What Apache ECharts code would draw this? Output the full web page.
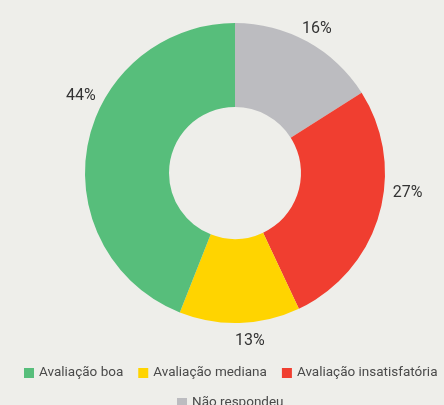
<!DOCTYPE html>
<html><head><meta charset="utf-8">
<script src="https://cdn.jsdelivr.net/npm/echarts@6/dist/echarts.min.js"></script>
<style>html,body{margin:0;padding:0;background:#eeeeea;}#c{width:444px;height:405px;}</style>
</head><body><div id="c"></div>
<script>
const categories = ['Não respondeu', 'Avaliação insatisfatória', 'Avaliação mediana', 'Avaliação boa'];
const values = [16, 27, 13, 44];
const colors = ['#bcbcc0', '#f03e30', '#ffd400', '#57be7b'];
const legendRow1 = ['Avaliação boa', 'Avaliação mediana', 'Avaliação insatisfatória'];
const legendRow2 = ['Não respondeu'];
// label nudges (style only)
const labelNudge = [[-14, -6], [1, -24], [-10, 10], [21, -47]];

const legendText = { color: '#4a4a4a', fontSize: 13.5, fontFamily: 'Roboto, sans-serif' };
const chart = echarts.init(document.getElementById('c'));
chart.setOption({
  backgroundColor: '#eeeeea',
  animation: false,
  legend: [{
    data: legendRow1,
    top: 366,
    left: 24,
    width: 440,
    padding: 0,
    itemWidth: 10,
    itemHeight: 10,
    itemGap: 15,
    icon: 'rect',
    textStyle: legendText
  }, {
    data: legendRow2,
    top: 396,
    left: 177,
    width: 260,
    padding: 0,
    itemWidth: 10,
    itemHeight: 10,
    icon: 'rect',
    textStyle: legendText
  }],
  series: [{
    type: 'pie',
    center: [235, 173],
    radius: [66, 150],
    startAngle: 90,
    clockwise: true,
    data: categories.map((c, i) => ({ name: c, value: values[i], itemStyle: { color: colors[i] } })),
    label: {
      show: true,
      formatter: '{c}%',
      color: '#333',
      fontSize: 16,
      fontFamily: 'Roboto, sans-serif',
      position: 'outside'
    },
    labelLine: { show: false, length: 8, length2: 0 },
    labelLayout: function (p) {
      const n = labelNudge[p.dataIndex];
      return { dx: n[0], dy: n[1] };
    },
    emphasis: { disabled: true }
  }]
});
</script></body></html>
